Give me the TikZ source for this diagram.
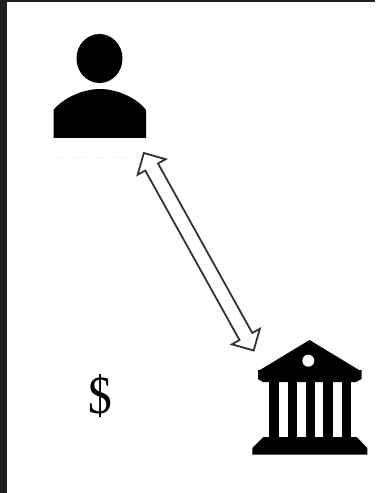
\documentclass[tikz,border=0pt]{standalone}
\usepackage{fontspec}
\setmainfont{Liberation Serif}
\usepackage{tikz}
\usetikzlibrary{shapes.arrows,positioning}
\definecolor{frame_gray}{HTML}{1F1F1F}
\definecolor{link_gray}{HTML}{333333}

\begin{document}
\begin{tikzpicture}[
    x=1bp, y=-1bp,
    icon/.style={fill=black, draw=none},
    link/.style={double arrow, draw=link_gray, fill=white, line width=1.8bp,
        double arrow head extend=8.7bp, double arrow tip angle=90,
        inner xsep=0pt, inner ysep=6.4bp, outer sep=0pt, minimum height=226bp},
    remnant/.style={draw=black!5, line width=0.7bp, dash pattern=on 8bp off 5bp}
]
    % Page and the dark edge of the screenshot
    \useasboundingbox (0,0) rectangle (375,493);
    \fill[white] (0,0) rectangle (375,493);
    \fill[frame_gray] (0,0) rectangle (375,2);
    \fill[frame_gray] (0,0) rectangle (7,493);

    % The person
    \fill[icon] (99.5,58.5) ellipse [x radius=23, y radius=24.5];
    \fill[icon] (53.5,138) -- (53.5,110) .. controls (62,99) and (82,89) .. (100,89)
        .. controls (118,89) and (138,99) .. (146,110) -- (146,138) -- cycle;
    \draw[remnant] (57,157) -- (140,157);

    % The bank
    \fill[icon] (309.5,340) -- (359,370) -- (361.5,370) -- (361.5,379) -- (356,382)
        -- (263,382) -- (258,379) -- (258,370) -- (260,370) -- cycle;
    \fill[white] (308.3,360.7) circle (6);
    \foreach \colx in {269.3,287.7,305.7,323.3,341.7}
        \fill[icon] (\colx,381) rectangle ++(9.2,57);
    \fill[icon] (263.3,437) -- (356.7,437) -- (367.3,448) -- (367.3,454.5)
        -- (252.3,454.5) -- (252.3,448) -- cycle;

    % The money
    \node[font=\fontsize{54}{54}\selectfont, inner sep=0pt, xscale=0.88] (dollar) at (100.5,396) {\$};

    % Ends of the link
    \coordinate (user_port) at (143,151.5);
    \coordinate (bank_port) at (254.5,352);
    \path (user_port) -- (bank_port) node[link, midway, sloped] (user_bank) {};
\end{tikzpicture}
\end{document}
